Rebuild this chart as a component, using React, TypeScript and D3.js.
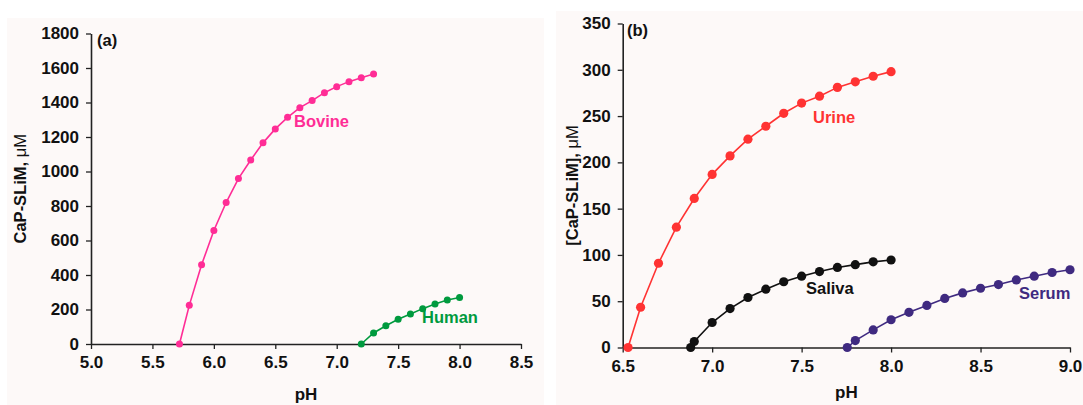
import React, { useEffect, useRef } from 'react';
import * as d3 from 'd3';

// panel (a)
const bovinePH = [5.72, 5.8, 5.9, 6.0, 6.1, 6.2, 6.3, 6.4, 6.5, 6.6, 6.7, 6.8, 6.9, 7.0, 7.1, 7.2, 7.3];
const bovine = [0, 224, 459, 658, 820, 959, 1067, 1166, 1247, 1314, 1370, 1411, 1457, 1492, 1521, 1544, 1565];
const humanPH = [7.2, 7.3, 7.4, 7.5, 7.6, 7.7, 7.8, 7.9, 8.0];
const human = [0, 64, 106, 143, 174, 205, 232, 255, 270];

// panel (b)
const urinePH = [6.53, 6.6, 6.7, 6.8, 6.9, 7.0, 7.1, 7.2, 7.3, 7.4, 7.5, 7.6, 7.7, 7.8, 7.9, 8.0];
const urine = [0, 43.5, 91, 130, 161, 187, 207, 225, 239, 253, 264, 271.5, 281, 287, 293, 298];
const salivaPH = [6.88, 6.9, 7.0, 7.1, 7.2, 7.3, 7.4, 7.5, 7.6, 7.7, 7.8, 7.9, 8.0];
const saliva = [0, 6.5, 27, 42, 54, 63, 71, 77, 82, 86.5, 89.5, 92.5, 94.5];
const serumPH = [7.755, 7.8, 7.9, 8.0, 8.1, 8.2, 8.3, 8.4, 8.5, 8.6, 8.7, 8.8, 8.9, 9.0];
const serum = [0, 7.5, 19, 30, 38, 45.5, 53, 59, 64, 68, 73, 77, 81, 84];

const xTicksA = [5.0, 5.5, 6.0, 6.5, 7.0, 7.5, 8.0, 8.5];
const yTicksA = [0, 200, 400, 600, 800, 1000, 1200, 1400, 1600, 1800];
const xTicksB = [6.5, 7.0, 7.5, 8.0, 8.5, 9.0];
const yTicksB = [0, 50, 100, 150, 200, 250, 300, 350];

const FONT = "'Liberation Sans', Arial, sans-serif";

const App = () => {
    const ref = useRef<SVGSVGElement>(null);

    useEffect(() => {
        const svg = d3.select(ref.current);
        svg.selectAll("*").remove();
        svg.style("font-family", FONT);

        const drawPanel = (opts: any) => {
            const { bg, x, y, xTicks, yTicks, series, tag, tagPos, yLabel, r } = opts;
            svg.append("rect")
                .attr("x", bg[0]).attr("y", bg[1])
                .attr("width", bg[2]).attr("height", bg[3])
                .attr("fill", "#fdf9f8");

            const [x0, x1] = x.range();
            const [y0, y1] = y.range();

            const xAxis = svg.append("g")
                .attr("transform", `translate(0,${y0})`)
                .call(d3.axisBottom(x).tickValues(xTicks).tickFormat(d3.format(".1f")).tickSize(5).tickSizeOuter(0).tickPadding(7));
            const yAxis = svg.append("g")
                .attr("transform", `translate(${x0},0)`)
                .call(d3.axisLeft(y).tickValues(yTicks).tickFormat(d3.format("d")).tickSize(5).tickSizeOuter(0).tickPadding(7));

            [xAxis, yAxis].forEach(g => {
                g.select(".domain").attr("stroke", "#222").attr("stroke-width", 1.6);
                g.selectAll(".tick line").attr("stroke", "#222").attr("stroke-width", 1.3);
                g.selectAll(".tick text")
                    .attr("fill", "#111")
                    .style("font-family", FONT)
                    .style("font-size", "17px")
                    .style("font-weight", "bold");
            });

            series.forEach((s: any) => {
                const pts = s.px.map((p: number, i: number) => [p, s.v[i]] as [number, number]);
                svg.append("path")
                    .datum(pts)
                    .attr("fill", "none")
                    .attr("stroke", s.color)
                    .attr("stroke-width", 1.6)
                    .attr("d", d3.line<[number, number]>().x(d => x(d[0])).y(d => y(d[1])));
                svg.append("g")
                    .selectAll("circle")
                    .data(pts)
                    .join("circle")
                    .attr("cx", d => x(d[0]))
                    .attr("cy", d => y(d[1]))
                    .attr("r", r)
                    .attr("fill", s.color);
                svg.append("text")
                    .attr("x", s.label[0]).attr("y", s.label[1])
                    .attr("fill", s.color)
                    .style("font-size", "16.5px")
                    .style("font-weight", "bold")
                    .text(s.name);
            });

            svg.append("text")
                .attr("x", tagPos[0]).attr("y", tagPos[1])
                .attr("fill", "#111")
                .style("font-size", "16.5px")
                .style("font-weight", "bold")
                .text(tag);

            svg.append("text")
                .attr("x", (x0 + x1) / 2)
                .attr("y", opts.pHy)
                .attr("text-anchor", "middle")
                .attr("fill", "#111")
                .style("font-size", "17px")
                .style("font-weight", "bold")
                .text("pH");

            const yl = svg.append("text")
                .attr("transform", `translate(${yLabel[0]},${(y0 + y1) / 2}) rotate(-90)`)
                .attr("text-anchor", "middle")
                .attr("fill", "#111")
                .style("font-size", "16.5px")
                .style("font-weight", "bold");
            yl.append("tspan").text(yLabel[2]);
            yl.append("tspan").style("font-weight", "normal").text("\u03bcM");
        };

        drawPanel({
            bg: [7, 18, 537, 387],
            x: d3.scaleLinear().domain([5.0, 8.5]).range([91, 521]),
            y: d3.scaleLinear().domain([0, 1800]).range([344, 33.5]),
            xTicks: xTicksA,
            yTicks: yTicksA,
            r: 3.5,
            tag: "(a)",
            tagPos: [97, 46],
            pHy: 400,
            yLabel: [26, 0, "CaP-SLiM, "],
            series: [
                { name: "Bovine", px: bovinePH, v: bovine, color: "#ff2d96", label: [294, 127] },
                { name: "Human", px: humanPH, v: human, color: "#009a3e", label: [422, 323] },
            ],
        });

        drawPanel({
            bg: [556, 11, 527, 394],
            x: d3.scaleLinear().domain([6.5, 9.0]).range([622.7, 1070]),
            y: d3.scaleLinear().domain([0, 350]).range([347.5, 23.5]),
            xTicks: xTicksB,
            yTicks: yTicksB,
            r: 4.6,
            tag: "(b)",
            tagPos: [627, 36],
            pHy: 398,
            yLabel: [578, 0, "[CaP-SLiM], "],
            series: [
                { name: "Urine", px: urinePH, v: urine, color: "#ff3333", label: [813, 123] },
                { name: "Saliva", px: salivaPH, v: saliva, color: "#111111", label: [806, 294] },
                { name: "Serum", px: serumPH, v: serum, color: "#3f2a80", label: [1019, 299] },
            ],
        });
    }, []);

    return (
        <svg ref={ref} width={1083} height={405}
            style={{ position: "absolute", left: 0, top: 0, background: "#ffffff" }} />
    );
};

export default App;
